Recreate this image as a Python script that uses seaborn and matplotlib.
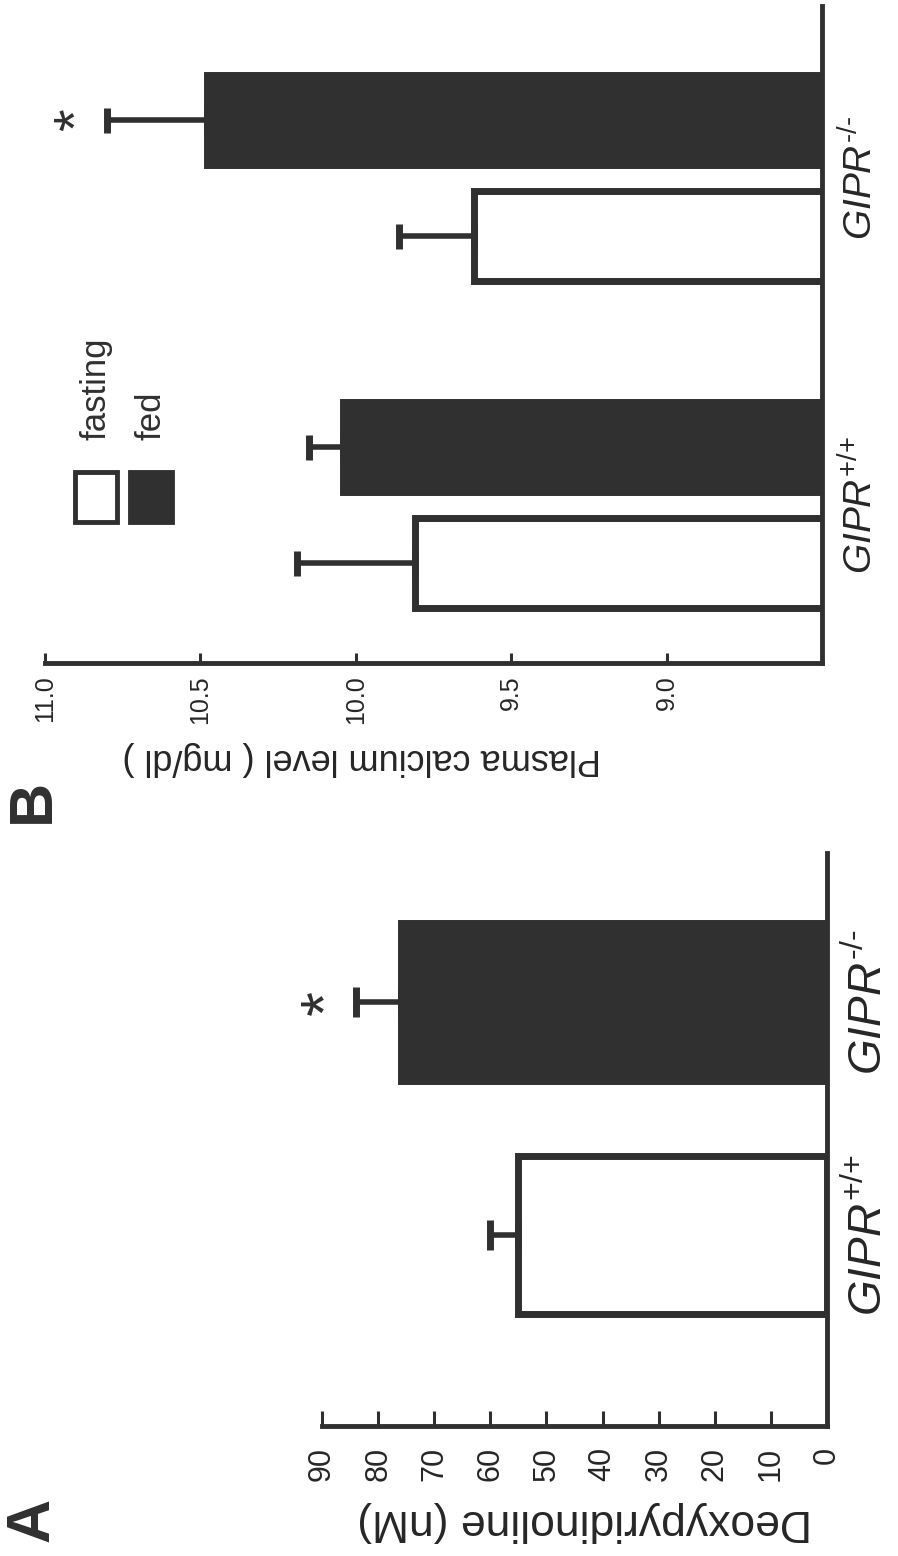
import numpy as np
import pandas as pd
import matplotlib.pyplot as plt
from matplotlib.patches import Rectangle
import seaborn as sns

# Panel A: urinary deoxypyridinoline (nM), mean and SEM
genotypes = ['GIPR-/-', 'GIPR+/+']
geno_labels = [r'$GIPR^{\text{-/-}}$', r'$GIPR^{\text{+/+}}$']
dpd_mean = [76, 55]
dpd_sem = [8, 5]
dpd_ticks = [0, 10, 20, 30, 40, 50, 60, 70, 80, 90]

# Panel B: plasma calcium (mg/dl), fasting vs fed
ca_genotype = ['GIPR-/-', 'GIPR-/-', 'GIPR+/+', 'GIPR+/+']
ca_state = ['fed', 'fasting', 'fed', 'fasting']
ca_mean = [10.48, 9.62, 10.04, 9.81]
ca_sem = [0.32, 0.24, 0.11, 0.38]
ca_ticks = [9.0, 9.5, 10.0, 10.5, 11.0]
states = ['fasting', 'fed']

sns.set_style('white')
plt.rcParams['font.family'] = ['Liberation Sans', 'DejaVu Sans']
plt.rcParams['mathtext.fontset'] = 'custom'
plt.rcParams['mathtext.it'] = 'Liberation Sans:italic'
plt.rcParams['mathtext.rm'] = 'Liberation Sans'

ink = '#303030'
fill = {'fasting': 'white', 'fed': ink}

fig = plt.figure(figsize=(8.98, 15.56), dpi=100)


def style_axes(ax, ticks, fmt, tick_len, tick_size, pad, cat_size):
    # figure is printed rotated: values grow to the left, baseline on the right
    for s in ['left', 'top']:
        ax.spines[s].set_visible(False)
    for s in ['right', 'bottom']:
        ax.spines[s].set_visible(True)
        ax.spines[s].set_linewidth(3.5)
        ax.spines[s].set_color(ink)
    ax.set_xticks(ticks)
    ax.set_xticklabels([fmt.format(t) for t in ticks], rotation=90)
    ax.tick_params(axis='x', direction='in', length=tick_len, width=2.2,
                   color=ink, labelsize=tick_size, pad=pad, bottom=True)
    ax.yaxis.tick_right()
    ax.tick_params(axis='y', length=0, labelsize=cat_size, pad=14, right=True)
    for lab in ax.get_yticklabels():
        lab.set_rotation(90)
        lab.set_va('center')


# ---- panel A ----
axA = fig.add_axes([0.3586, 0.0835, 0.5624, 0.3683])
dfA = pd.DataFrame({'genotype': genotypes, 'dpd': dpd_mean, 'err': dpd_sem})
sns.barplot(data=dfA, x='dpd', y='genotype', hue='genotype', order=genotypes,
            palette=[ink, 'white'], saturation=1, width=0.68, errorbar=None,
            edgecolor=ink, linewidth=5, legend=False, ax=axA)
for bars, g in zip(axA.containers, genotypes):
    row = dfA[dfA.genotype == g].iloc[0]
    for p in bars:
        yc = p.get_y() + p.get_height() / 2
        axA.errorbar(row['dpd'], yc, xerr=[[0], [row['err']]], fmt='none', ecolor=ink,
                     elinewidth=4, capsize=11, capthick=5, zorder=3)
        if g == 'GIPR-/-':
            axA.text(row['dpd'] + row['err'] + 5, yc, '*', rotation=90, ha='center',
                     va='center', fontsize=46, color=ink, clip_on=False)
axA.set_xlim(90, 0)
axA.set_ylim(1.82, -0.64)
axA.set_yticks(range(len(genotypes)))
axA.set_yticklabels(geno_labels)
style_axes(axA, dpd_ticks, '{:d}', 11, 22, 15, 33)
axA.set_ylabel('')
axA.set_xlabel('Deoxypyridinoline (nM)', rotation=180, fontsize=32, va='center')
axA.xaxis.set_label_coords(0.52, -0.166)

# ---- panel B ----
axB = fig.add_axes([0.0501, 0.5739, 0.8653, 0.4222])
dfB = pd.DataFrame({'genotype': ca_genotype, 'state': ca_state,
                    'calcium': ca_mean, 'err': ca_sem})
sns.barplot(data=dfB, x='calcium', y='genotype', hue='state', order=genotypes,
            hue_order=['fed', 'fasting'], palette=fill, saturation=1,
            width=0.708, gap=0.223, errorbar=None, edgecolor=ink, linewidth=5,
            legend=False, ax=axB)
for bars, st in zip(axB.containers, ['fed', 'fasting']):
    for p, g in zip(bars, genotypes):
        row = dfB[(dfB.genotype == g) & (dfB.state == st)].iloc[0]
        yc = p.get_y() + p.get_height() / 2
        axB.errorbar(row['calcium'], yc, xerr=[[0], [row['err']]], fmt='none', ecolor=ink,
                     elinewidth=4, capsize=9, capthick=5, zorder=3)
        if g == 'GIPR-/-' and st == 'fed':
            axB.text(row['calcium'] + row['err'] + 0.09, yc, '*', rotation=90, ha='center',
                     va='center', fontsize=42, color=ink, clip_on=False)
axB.set_xlim(11.0, 8.5)
axB.set_ylim(1.482, -0.524)
axB.set_yticks(range(len(genotypes)))
axB.set_yticklabels(geno_labels)
style_axes(axB, ca_ticks, '{:.1f}', 7, 18, 9, 28)
axB.set_ylabel('')
axB.set_xlabel('Plasma calcium level ( mg/dl )', rotation=180, fontsize=26, va='center')
axB.xaxis.set_label_coords(0.407, -0.145)

# legend, drawn turned like the rest of the figure
for i, st in enumerate(states):
    axB.add_patch(Rectangle((0.039 + i * 0.071, 0.215), 0.054, 0.075, transform=axB.transAxes,
                            facecolor=fill[st], edgecolor=ink, linewidth=3.5, clip_on=False))
    axB.text(0.066 + i * 0.071, 0.339, st, transform=axB.transAxes, rotation=90,
             rotation_mode='anchor', ha='left', va='center', fontsize=25, color=ink)

# panel letters
fig.text(0.037, 1 - 1520 / 1556, 'A', rotation=90, ha='center', va='center',
         fontsize=44, fontweight='bold', color=ink)
fig.text(0.037, 1 - 801 / 1556, 'B', rotation=90, ha='center', va='center',
         fontsize=44, fontweight='bold', color=ink)

fig.savefig('out.png', dpi=100, facecolor='white')
